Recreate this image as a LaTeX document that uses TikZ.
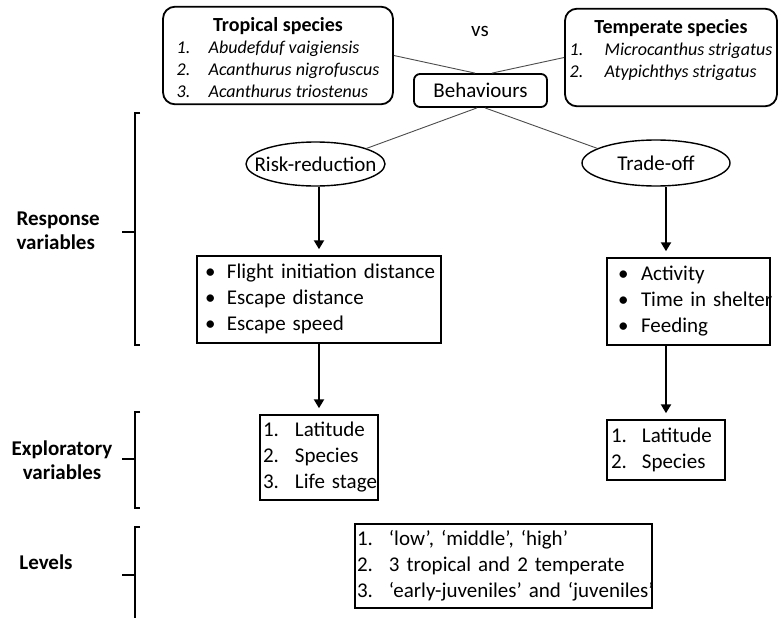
\documentclass[tikz,border=0pt]{standalone}
\usepackage{fontspec}
\setmainfont{Carlito}
\usetikzlibrary{arrows.meta,shapes.geometric}
\begin{document}
\begin{tikzpicture}[x=1pt,y=-1pt,
  rbox/.style={draw,line width=1.8pt,rounded corners=12pt,inner sep=0pt,anchor=center},
  sbox/.style={draw,line width=1.5pt,inner ysep=0pt,anchor=center,align=left,font=\fontsize{21}{26}\selectfont},
  oval/.style={draw,ellipse,line width=1.4pt,inner sep=0pt,font=\fontsize{21}{26}\selectfont},
  thinline/.style={line width=0.9pt,draw=black!70},
  thickarrow/.style={line width=2.6pt,-{Triangle[width=10pt,length=9pt]},shorten >=6pt},
  brk/.style={line width=2pt},
  lab/.style={font=\fontsize{21}{24}\selectfont\bfseries}
]
\useasboundingbox[fill=white] (0,0) rectangle (781,618);

% top boxes
\node[rbox, minimum width=230pt, minimum height=95pt] (trop) at (278,55.5)
 {\fontsize{18}{22}\selectfont\begin{tabular}{@{}p{32pt}@{}l@{}}
  \multicolumn{2}{@{}c@{}}{\rule{0pt}{25pt}\fontsize{20}{22}\selectfont\bfseries Tropical species}\\
  \itshape 1. & \itshape Abudefduf vaigiensis\\
  \itshape 2. & \itshape Acanthurus nigrofuscus\\
  \itshape 3. & \itshape Acanthurus triostenus
 \end{tabular}};
\node[rbox, minimum width=212pt, minimum height=85pt] (temp) at (671,57.5)
 {\fontsize{18}{22}\selectfont\begin{tabular}{@{}p{35pt}@{}l@{}}
  \multicolumn{2}{@{}c@{}}{\rule{0pt}{25pt}\fontsize{20}{22}\selectfont\bfseries Temperate species}\\
  \itshape 1. & \itshape Microcanthus strigatus\\
  \itshape 2. & \itshape Atypichthys strigatus\\
  &
 \end{tabular}};
\node[font=\fontsize{21}{26}\selectfont] (vs) at (480,31) {vs};
\node[rbox, rounded corners=6pt, minimum width=133pt, minimum height=33pt,
      font=\fontsize{21}{26}\selectfont] (beh) at (480.5,90.5) {Behaviours};

% ellipses
\node[oval, minimum width=139pt, minimum height=44pt] (risk) at (315.5,164) {\makebox[0pt]{Risk-reduction}};
\node[oval, minimum width=148pt, minimum height=46pt] (trade) at (656,163) {\makebox[0pt]{Trade-off}};

% response boxes
\node[sbox, minimum width=244pt, minimum height=87pt, text width=228pt, inner xsep=8pt] (riskbox) at (319,299.5)
 {\noindent\begin{tabular}{@{}p{22pt}@{}l@{}}
  \textbullet & Flight initiation distance\\
  \textbullet & Escape distance\\
  \textbullet & Escape speed
 \end{tabular}};
\node[sbox, minimum width=163pt, minimum height=87pt, text width=141pt, inner xsep=11pt] (tradebox) at (688.5,301.5)
 {\noindent\begin{tabular}{@{}p{23pt}@{}l@{}}
  \textbullet & Activity\\
  \textbullet & Time in shelter\\
  \textbullet & Feeding
 \end{tabular}};

% exploratory boxes
\node[sbox, minimum width=118pt, minimum height=85pt, text width=112pt, inner xsep=3pt] (explL) at (319,457.5)
 {\noindent\begin{tabular}{@{}p{32pt}@{}l@{}}
  1. & Latitude\\
  2. & Species\\
  3. & Life stage
 \end{tabular}};
\node[sbox, minimum width=118pt, minimum height=60pt, text width=110pt, inner xsep=4pt] (explR) at (666,450)
 {\noindent\begin{tabular}{@{}p{31pt}@{}l@{}}
  1. & Latitude\\
  2. & Species
 \end{tabular}};

% levels box
\node[sbox, minimum width=297pt, minimum height=84pt, text width=293pt, inner xsep=2pt] (levbox) at (503.5,566)
 {\noindent\begin{tabular}{@{}p{32pt}@{}l@{}}
  1. & ‘low’, ‘middle’, ‘high’\\
  2. & 3 tropical and 2 temperate\\
  3. & ‘early-juveniles’ and ‘juveniles’
 \end{tabular}};

% thin connectors
\draw[thinline] (trop.east) -- ([xshift=-5.5pt]beh.north);
\draw[thinline] (temp.west) -- ([xshift=11.5pt]beh.north);
\draw[thinline] ([xshift=-3.5pt]beh.south) -- (risk.17);
\draw[thinline] ([xshift=4.5pt]beh.south) -- (trade.166);

% thick arrows
\draw[thickarrow] (riskbox.north |- risk.south) -- (riskbox.north);
\draw[thickarrow] (riskbox.south) -- (explL.north);
\draw[thickarrow] (explR.north |- trade.south) -- (explR.north |- tradebox.north);
\draw[thickarrow] (explR.north |- tradebox.south) -- (explR.north);

% brackets
\draw[brk] (140,113) -- (135,113) -- (135,345) -- (140,345);
\draw[brk] (122,232) -- (135,232);
\draw[brk] (140,412) -- (135,412) -- (135,508) -- (140,508);
\draw[brk] (122,459) -- (135,459);
\draw[brk] (140,527) -- (135,527) -- (135,618);
\draw[brk] (122,575) -- (135,575);

% labels
\node[lab, anchor=west, align=left] (resp) at (13,231) {Response\\variables};
\node[lab, align=center] (expl) at (62,460) {Exploratory\\variables};
\node[lab] (lev) at (46,562) {Levels};
\end{tikzpicture}
\end{document}
